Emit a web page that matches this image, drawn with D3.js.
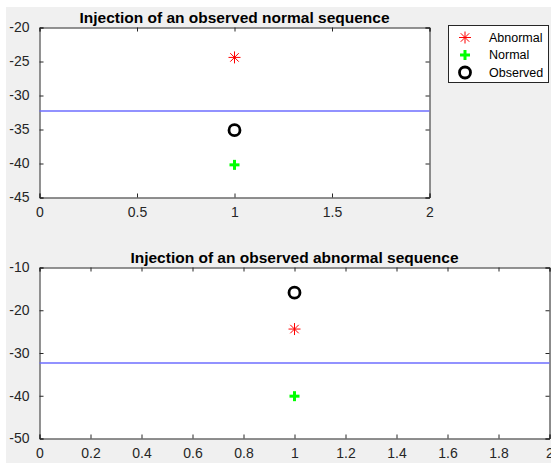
<!DOCTYPE html>
<html>
<head>
<meta charset="utf-8">
<script src="https://cdn.jsdelivr.net/npm/d3@7"></script>
<style>
  body { margin: 0; background: #fff; }
  svg { display: block; font-family: "Liberation Sans", Arial, sans-serif; }
</style>
</head>
<body>
<script>
(function () {
	"use strict";

	let w = 551;
	let h = 463;

	// data
	let threshold = -32.35;
	let topTitle = 'Injection of an observed normal sequence';
	let topX = [1];
	let topAbnormal = [-24.4];
	let topNormal = [-40.2];
	let topObserved = [-35.1];
	let topXTicks = [0, 0.5, 1, 1.5, 2];
	let topYTicks = [-45, -40, -35, -30, -25, -20];

	let botTitle = 'Injection of an observed abnormal sequence';
	let botX = [1];
	let botAbnormal = [-24.4];
	let botNormal = [-40.1];
	let botObserved = [-15.9];
	let botXTicks = [0, 0.2, 0.4, 0.6, 0.8, 1, 1.2, 1.4, 1.6, 1.8, 2];
	let botYTicks = [-50, -40, -30, -20, -10];

	let legendNames = ['Abnormal', 'Normal', 'Observed'];

	let svg = d3.select('body').append('svg').attr('width', w).attr('height', h);

	svg.append('rect').attr('x', 6).attr('y', 7).attr('width', w - 6).attr('height', h - 7)
		.attr('fill', '#f0f0f0');

	let axisColor = '#262626';
	let fmt = (d) => String(d); // plain hyphen like the original

	function star(g, x, y, r) {
		let s = g.append('g').attr('stroke', '#ff0000').attr('stroke-width', 1);
		let d = r * 0.7071;
		s.append('line').attr('x1', x - r).attr('x2', x + r).attr('y1', y).attr('y2', y);
		s.append('line').attr('x1', x).attr('x2', x).attr('y1', y - r).attr('y2', y + r);
		s.append('line').attr('x1', x - d).attr('x2', x + d).attr('y1', y - d).attr('y2', y + d);
		s.append('line').attr('x1', x - d).attr('x2', x + d).attr('y1', y + d).attr('y2', y - d);
	}

	function plus(g, x, y, r) {
		let s = g.append('g').attr('stroke', '#00ff00').attr('stroke-width', 3);
		s.append('line').attr('x1', x - r).attr('x2', x + r).attr('y1', y).attr('y2', y);
		s.append('line').attr('x1', x).attr('x2', x).attr('y1', y - r).attr('y2', y + r);
	}

	function ring(g, x, y, r) {
		g.append('circle').attr('cx', x).attr('cy', y).attr('r', r)
			.attr('fill', 'none').attr('stroke', '#000').attr('stroke-width', 2.8);
	}

	function panel(opt) {
		let x = d3.scaleLinear().domain([0, 2]).range([opt.left, opt.right]);
		let y = d3.scaleLinear().domain(opt.yDomain).range([opt.bottom, opt.top]);
		let g = svg.append('g');

		g.append('rect').attr('x', opt.left).attr('y', opt.top)
			.attr('width', opt.right - opt.left).attr('height', opt.bottom - opt.top)
			.attr('fill', '#fff');

		let tick = 4;

		let xb = g.append('g').attr('transform', 'translate(0,' + opt.bottom + ')')
			.call(d3.axisBottom(x).tickValues(opt.xTicks).tickSize(-tick).tickPadding(10).tickFormat(fmt));
		let xt = g.append('g').attr('transform', 'translate(0,' + opt.top + ')')
			.call(d3.axisTop(x).tickValues(opt.xTicks).tickSize(-tick).tickFormat(''));
		let yl = g.append('g').attr('transform', 'translate(' + opt.left + ',0)')
			.call(d3.axisLeft(y).tickValues(opt.yTicks).tickSize(-tick).tickPadding(10).tickFormat(fmt));
		let yr = g.append('g').attr('transform', 'translate(' + opt.right + ',0)')
			.call(d3.axisRight(y).tickValues(opt.yTicks).tickSize(-tick).tickFormat(''));

		[xb, xt, yl, yr].forEach(function (a) {
			a.select('.domain').attr('stroke', axisColor).attr('stroke-width', 1);
			a.selectAll('.tick line').attr('stroke', axisColor);
			a.selectAll('.tick text').attr('fill', axisColor).style('font-size', '14px')
				.style('font-family', '"Liberation Sans", Arial, sans-serif');
		});

		// threshold line
		let ty = Math.round(y(threshold));
		g.append('line')
			.attr('x1', x(0)).attr('x2', x(2))
			.attr('y1', ty).attr('y2', ty)
			.style('stroke', '#6e6eff').style('stroke-width', '1.6px');

		opt.xs.forEach(function (xv, i) {
			star(g, x(xv), y(opt.abnormal[i]), 6);
			plus(g, x(xv), y(opt.normal[i]), 5);
			ring(g, x(xv), y(opt.observed[i]), 5.5);
		});

		g.append('text')
			.attr('x', (opt.left + opt.right) / 2).attr('y', opt.top - 5)
			.attr('text-anchor', 'middle')
			.style('font-size', '15.5px').style('font-weight', 'bold')
			.attr('fill', '#000')
			.text(opt.title);
	}

	panel({
		left: 39.5, right: 429.5, top: 27.5, bottom: 197.5,
		yDomain: [-45, -20], xTicks: topXTicks, yTicks: topYTicks,
		xs: topX, abnormal: topAbnormal, normal: topNormal, observed: topObserved,
		title: topTitle
	});

	panel({
		left: 39.5, right: 549.5, top: 267.5, bottom: 438.5,
		yDomain: [-50, -10], xTicks: botXTicks, yTicks: botYTicks,
		xs: botX, abnormal: botAbnormal, normal: botNormal, observed: botObserved,
		title: botTitle
	});

	// legend
	let lg = svg.append('g');
	lg.append('rect').attr('x', 448.5).attr('y', 25.5).attr('width', 100).attr('height', 57)
		.attr('fill', '#fff').attr('stroke', '#262626').attr('stroke-width', 1);
	let ly = d3.scalePoint().domain(legendNames).range([37.5, 72.5]);
	star(lg, 465, ly('Abnormal'), 6);
	plus(lg, 465, ly('Normal'), 5);
	ring(lg, 465, ly('Observed'), 5.5);
	lg.selectAll('text.lab').data(legendNames).enter().append('text')
		.attr('x', 489).attr('y', (d) => ly(d))
		.attr('dy', '0.35em')
		.style('font-size', '12.5px').attr('fill', '#000')
		.text((d) => d);
})();
</script>
</body>
</html>
